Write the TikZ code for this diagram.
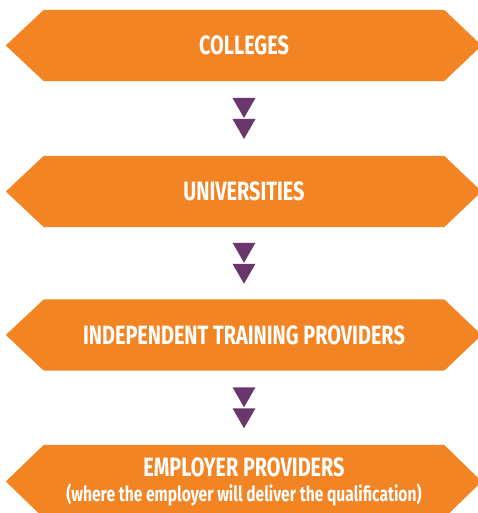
\documentclass[tikz,border=0pt]{standalone}
\usepackage{fontspec}
\setmainfont{Fira Sans}[FakeStretch=0.75]
\usetikzlibrary{backgrounds,calc}
\definecolor{bannerorange}{RGB}{242,132,35}
\definecolor{arrowpurple}{RGB}{106,55,108}
\begin{document}
\begin{tikzpicture}[x=1pt,y=-1pt,
  banner/.style={minimum width=400pt,minimum height=71pt,inner sep=0pt,
    text=white,font=\bfseries\fontsize{26.5}{27}\selectfont,align=center},
  bannerfill/.style={fill=bannerorange},
  tri/.style={fill=arrowpurple}]
\useasboundingbox (0,0) rectangle (477,513);
\clip (0,0) rectangle (477,513);
\node[banner] (b1) at (244,45.5) {COLLEGES};
\node[banner] (b2) at (244,191.5) {UNIVERSITIES};
\node[banner] (b3) at (244,335) {INDEPENDENT TRAINING PROVIDERS};
\node[banner,minimum height=73pt] (b4) at (244,481.5) {EMPLOYER PROVIDERS\\[-2pt]{\fontsize{20.8}{23}\selectfont (where the employer will deliver the qualification)}};
\begin{scope}[on background layer]
\foreach \b in {b1,b2,b3,b4}{
  \fill[bannerfill] (\b.north west) -- (\b.north east) -- ($(\b.east)+(37.5,0)$) -- (\b.south east) -- (\b.south west) -- ($(\b.west)+(-38,0)$) -- cycle;
}
\end{scope}
\foreach \a/\c/\n in {b1/b2/m1,b2/b3/m2,b3/b4/m3}{
  \coordinate (\n) at ($(\a.south)!0.5!(\c.north)$);
  \fill[tri] ($(\n)+(-11.5,-20.5)$) -- ++(23,0) -- ($(\n)+(0,-0.5)$) -- cycle;
  \fill[tri] ($(\n)+(-11.5,0.5)$) -- ++(23,0) -- ($(\n)+(0,20.5)$) -- cycle;
}
\end{tikzpicture}
\end{document}
